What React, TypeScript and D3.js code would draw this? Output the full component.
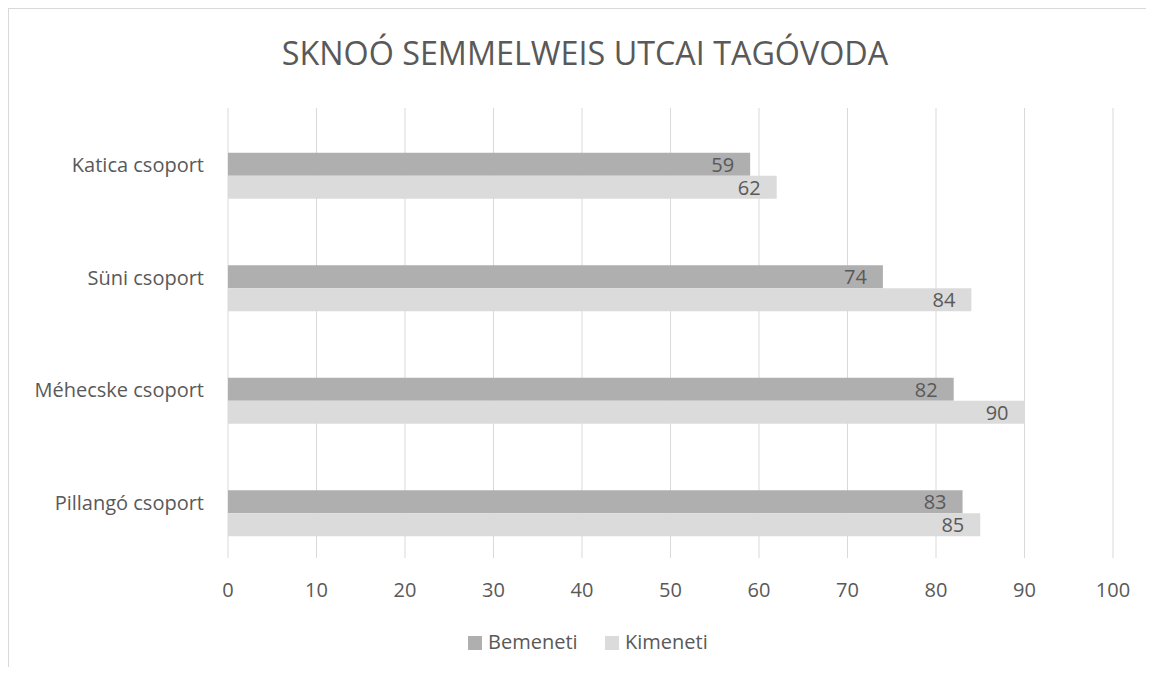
import { useEffect, useRef } from 'react';
import * as d3 from 'd3';

const title = 'SKNOÓ SEMMELWEIS UTCAI TAGÓVODA';
const categories = ['Katica csoport', 'Süni csoport', 'Méhecske csoport', 'Pillangó csoport'];
const seriesNames = ['Bemeneti', 'Kimeneti'];
const bemeneti = [59, 74, 82, 83];
const kimeneti = [62, 84, 90, 85];
const xTicks = [0, 10, 20, 30, 40, 50, 60, 70, 80, 90, 100];
const seriesColors = ['#afafaf', '#dbdbdb'];

const App = () => {
  const svgRef = useRef<SVGSVGElement>(null);

  useEffect(() => {
    // svg box stays inside the body so the page does not scroll;
    // the chart frame runs on past it to the window edges
    const width = 1138;
    const height = 659;
    const frameW = 1146;
    const frameH = 667;
    const font = '"Open Sans", sans-serif';
    const textColor = '#595959';
    const gridColor = '#d9d9d9';

    const svg = d3.select(svgRef.current)
      .attr('width', width)
      .attr('height', height);

    svg.selectAll('*').remove();

    // chart border (right and bottom fall off the page)
    svg.append('line')
      .attr('x1', 0).attr('x2', frameW).attr('y1', 0.5).attr('y2', 0.5)
      .attr('stroke', gridColor);
    svg.append('line')
      .attr('x1', 0.5).attr('x2', 0.5).attr('y1', 0).attr('y2', frameH)
      .attr('stroke', gridColor);

    const x = d3.scaleLinear().domain([0, 100]).range([220, 1105]);
    const y = d3.scaleBand().domain(categories).range([100, 550]);

    // three slots per group, the first one stays empty like in the original
    const inner = d3.scaleBand()
      .domain(['', ...seriesNames])
      .range([0, y.bandwidth()])
      .paddingOuter((y.bandwidth() / 23 - 3) / 2);

    // gridlines
    svg.append('g')
      .selectAll('line')
      .data(xTicks)
      .join('line')
      .attr('x1', d => x(d))
      .attr('x2', d => x(d))
      .attr('y1', 100)
      .attr('y2', 550)
      .attr('stroke', gridColor)
      .attr('stroke-width', 1);

    // x tick labels
    svg.append('g')
      .selectAll('text')
      .data(xTicks)
      .join('text')
      .attr('x', d => x(d))
      .attr('y', 589)
      .attr('text-anchor', 'middle')
      .attr('font-family', font)
      .attr('font-size', 20)
      .attr('fill', textColor)
      .text(d => d);

    // category labels
    svg.append('g')
      .selectAll('text')
      .data(categories)
      .join('text')
      .attr('x', 196)
      .attr('y', d => y(d)! + y.bandwidth() / 2 + 8)
      .attr('text-anchor', 'end')
      .attr('font-family', font)
      .attr('font-size', 20)
      .attr('fill', textColor)
      .text(d => d);

    const series = [bemeneti, kimeneti];
    series.forEach((values, si) => {
      const name = seriesNames[si];
      const g = svg.append('g');
      g.selectAll('rect')
        .data(values)
        .join('rect')
        .attr('x', x(0))
        .attr('y', (d, i) => y(categories[i])! + inner(name)!)
        .attr('width', d => x(d) - x(0))
        .attr('height', inner.bandwidth())
        .attr('fill', seriesColors[si]);

      g.selectAll('text')
        .data(values)
        .join('text')
        .attr('x', d => x(d) - 16)
        .attr('y', (d, i) => y(categories[i])! + inner(name)! + inner.bandwidth() / 2 + 7.5)
        .attr('text-anchor', 'end')
        .attr('font-family', font)
        .attr('font-size', 20)
        .attr('fill', textColor)
        .text(d => d);
    });

    // title
    svg.append('text')
      .attr('x', 577)
      .attr('y', 57)
      .attr('text-anchor', 'middle')
      .attr('font-family', font)
      .attr('font-size', 32.3)
      .attr('fill', textColor)
      .text(title);

    // legend
    const legendX = [460, 597];
    const legend = svg.append('g');
    seriesNames.forEach((name, i) => {
      legend.append('rect')
        .attr('x', legendX[i])
        .attr('y', 628)
        .attr('width', 14)
        .attr('height', 14)
        .attr('fill', seriesColors[i]);
      legend.append('text')
        .attr('x', legendX[i] + 20)
        .attr('y', 641)
        .attr('font-family', font)
        .attr('font-size', 20)
        .attr('fill', textColor)
        .text(name);
    });
  }, []);

  return <svg ref={svgRef} style={{ display: 'block', overflow: 'visible' }}></svg>;
};

export default App;
